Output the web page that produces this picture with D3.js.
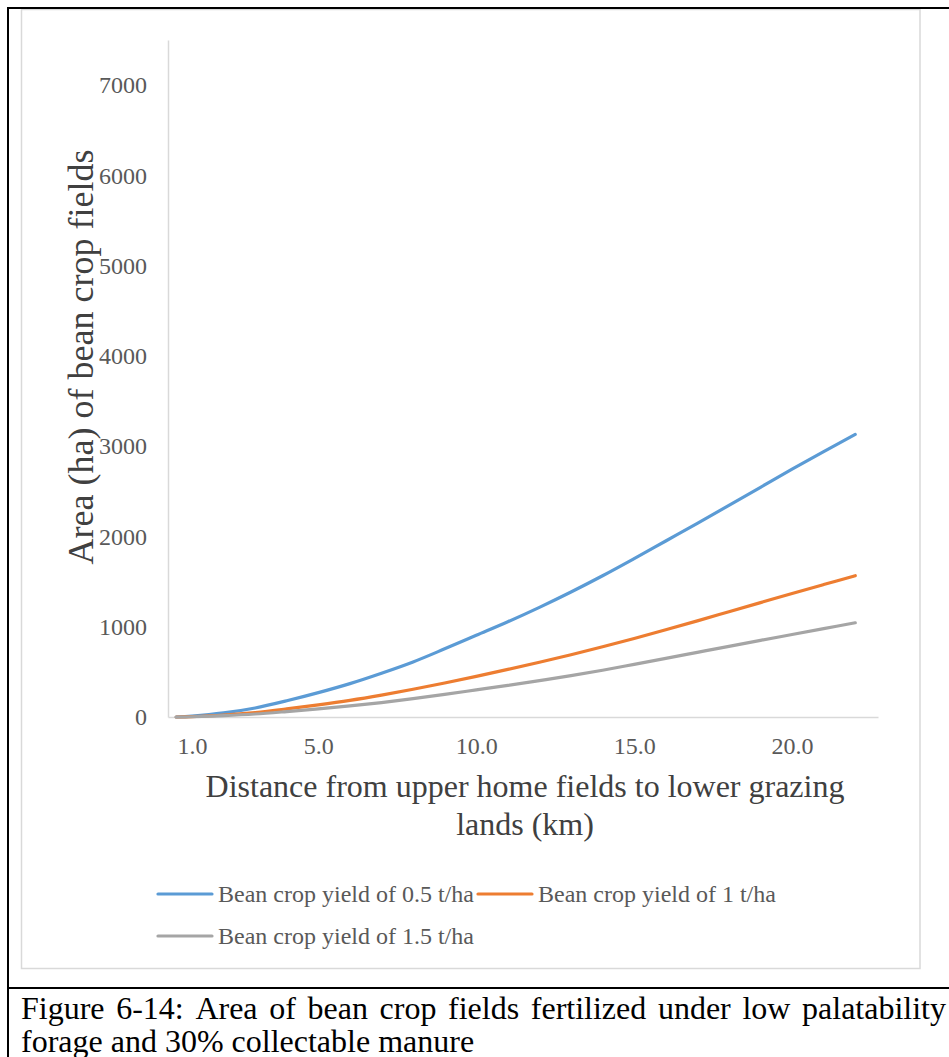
<!DOCTYPE html>
<html><head><meta charset="utf-8">
<script src="https://cdn.jsdelivr.net/npm/d3@7"></script>
<style>body{margin:0;background:#fff} svg{display:block}</style>
</head><body>
<svg id="chart" width="949" height="1057"></svg>
<script>
// ---- data ----
const distances = [0.5, 1, 2, 3, 4, 5, 6, 7, 8, 9, 10, 11, 12, 13, 14, 15, 16, 17, 18, 19, 20, 21, 22];
const yield05 = [0, 10, 45, 100, 180, 270, 370, 485, 610, 755, 905, 1055, 1215, 1385, 1565, 1755, 1950, 2145, 2345, 2545, 2745, 2940, 3130];
const yield1  = [0, 5, 22, 50, 90, 135, 185, 243, 307, 377, 450, 527, 607, 690, 778, 870, 966, 1065, 1166, 1267, 1368, 1467, 1565];
const yield15 = [0, 3, 15, 33, 60, 90, 123, 160, 203, 250, 300, 350, 403, 458, 518, 583, 649, 716, 783, 849, 914, 979, 1044];
const seriesNames = ["Bean crop yield of 0.5 t/ha", "Bean crop yield of 1 t/ha", "Bean crop yield of 1.5 t/ha"];
const seriesColors = ["#5B9BD5", "#ED7D31", "#A5A5A5"];
const xTickValues = [1, 5, 10, 15, 20];
const yTickValues = [0, 1000, 2000, 3000, 4000, 5000, 6000, 7000];
const xDomain = [0.24, 22.72];
const yDomain = [0, 7500];
const yTitle = "Area (ha) of bean crop fields";
const xTitleLines = ["Distance from upper home fields to lower grazing", "lands (km)"];
const captionLines = ["Figure 6-14: Area of bean crop fields fertilized under low palatability", "forage and 30% collectable manure"];

const series = [yield05, yield1, yield15].map((vals, i) => ({
  name: seriesNames[i], color: seriesColors[i],
  points: distances.map((d, j) => ({x: d, y: vals[j]}))
}));

const svg = d3.select("#chart");
const serif = "'Liberation Serif','Times New Roman',serif";

// frame (table cell borders)
svg.append("rect").attr("x", 0).attr("y", 0).attr("width", 949).attr("height", 1057).attr("fill", "#fff");
svg.append("rect").attr("x", 21.5).attr("y", 9.5).attr("width", 898.5).attr("height", 959)
  .attr("fill", "#fff").attr("stroke", "#D9D9D9").attr("stroke-width", 1.5);
svg.append("line").attr("x1", 8).attr("x2", 949).attr("y1", 8).attr("y2", 8).attr("stroke", "#000").attr("stroke-width", 2);
svg.append("line").attr("x1", 8).attr("x2", 8).attr("y1", 7).attr("y2", 1057).attr("stroke", "#000").attr("stroke-width", 2);
svg.append("line").attr("x1", 8).attr("x2", 949).attr("y1", 988).attr("y2", 988).attr("stroke", "#000").attr("stroke-width", 2);

// scales
const x = d3.scaleLinear().domain(xDomain).range([168, 878]);
const y = d3.scaleLinear().domain(yDomain).range([717, 40]);

// axes
const xAxis = svg.append("g").attr("transform", `translate(0,${y(0)})`)
  .call(d3.axisBottom(x).tickValues(xTickValues).tickFormat(d3.format(".1f")).tickSize(0).tickPadding(20));
xAxis.select(".domain").attr("stroke", "#D9D9D9").attr("stroke-width", 1.5);
xAxis.selectAll("text").attr("font-family", serif).attr("font-size", 24).attr("fill", "#595959");

const yAxis = svg.append("g").attr("transform", `translate(${x(xDomain[0])},0)`)
  .call(d3.axisLeft(y).tickValues(yTickValues).tickFormat(d3.format("d")).tickSize(0).tickPadding(21));
yAxis.select(".domain").attr("stroke", "#D9D9D9").attr("stroke-width", 1.5);
yAxis.selectAll("text").attr("font-family", serif).attr("font-size", 24).attr("fill", "#595959");

// lines
const line = d3.line().x(d => x(d.x)).y(d => y(d.y)).curve(d3.curveCatmullRom.alpha(0.5));
svg.append("g").selectAll("path").data(series).join("path")
  .attr("d", d => line(d.points)).attr("fill", "none")
  .attr("stroke", d => d.color).attr("stroke-width", 3.2).attr("stroke-linecap", "round").attr("stroke-linejoin", "round");

// axis titles
svg.append("text").attr("transform", `translate(93,357) rotate(-90)`).attr("text-anchor", "middle")
  .attr("font-family", serif).attr("font-size", 36).attr("fill", "#404040").text(yTitle);
svg.append("g").selectAll("text").data(xTitleLines).join("text")
  .attr("x", 525).attr("y", (d, i) => 797 + i * 38).attr("text-anchor", "middle")
  .attr("font-family", serif).attr("font-size", 32).attr("fill", "#404040").text(d => d);

// legend
const legendPos = [{lx: 158, ly: 894}, {lx: 478, ly: 894}, {lx: 158, ly: 936}];
const lg = svg.append("g").selectAll("g").data(series).join("g")
  .attr("transform", (d, i) => `translate(${legendPos[i].lx},${legendPos[i].ly})`);
lg.append("line").attr("x1", 0).attr("x2", 54).attr("stroke", d => d.color).attr("stroke-width", 3.2).attr("stroke-linecap", "round");
lg.append("text").attr("x", 60).attr("y", 8).attr("font-family", serif).attr("font-size", 24)
  .attr("fill", "#595959").text(d => d.name);

// caption (first line justified)
const capSize = 32;
const words = captionLines[0].split(" ");
const capG = svg.append("g").attr("font-family", serif).attr("font-size", capSize).attr("fill", "#000");
const wEls = words.map(w => capG.append("text").attr("y", 1019).text(w));
const widths = wEls.map(e => e.node().getComputedTextLength());
const left = 21, right = 946;
const gap = (right - left - d3.sum(widths)) / (words.length - 1);
let cx = left;
wEls.forEach((e, i) => { e.attr("x", cx); cx += widths[i] + gap; });
capG.append("text").attr("x", left).attr("y", 1052).text(captionLines[1]);
</script>
</body></html>
